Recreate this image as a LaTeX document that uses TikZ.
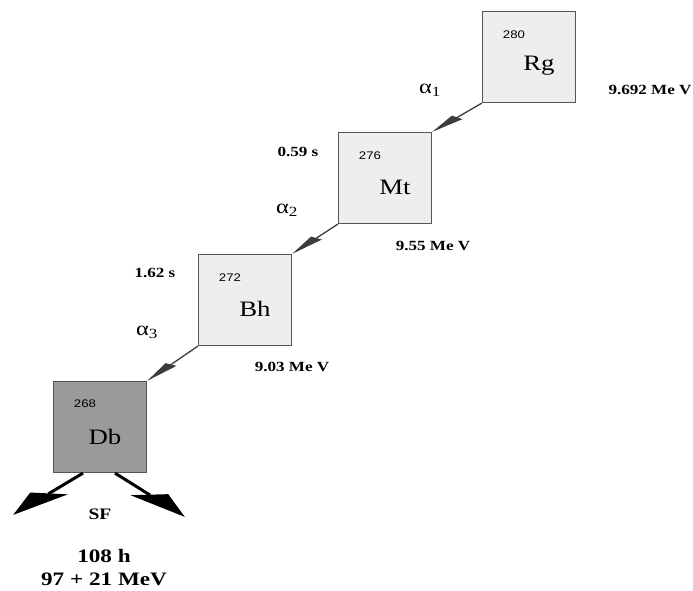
\documentclass[tikz,border=0pt]{standalone}
\usepackage{fontspec}
\setmainfont[FakeStretch=1.22]{Liberation Serif}
\newfontfamily\sansfont[FakeStretch=1.2]{Liberation Sans}
\usetikzlibrary{arrows.meta}
\definecolor{boxgray}{HTML}{EEEEEE}
\definecolor{dbgray}{HTML}{9A9A9A}
\definecolor{edgegray}{HTML}{555555}
\definecolor{arrowgray}{HTML}{3C3C3C}
\tikzstyle{nucleus} = [draw=edgegray, line width=1.2pt, fill=boxgray, minimum width=93pt, minimum height=91pt, inner sep=0pt]
\tikzstyle{daughter} = [nucleus, fill=dbgray]
\tikzstyle{mass} = [font=\sansfont\fontsize{11}{13}\selectfont, inner sep=0pt]
\tikzstyle{symbol} = [font=\fontsize{22}{24}\selectfont, inner sep=0pt]
\tikzstyle{info} = [font=\bfseries\fontsize{14}{16}\selectfont, inner sep=0pt]
\tikzstyle{sflabel} = [font=\bfseries\fontsize{16}{18}\selectfont, inner sep=0pt]
\tikzstyle{decaymode} = [font=\fontsize{20}{22}\selectfont, inner sep=0pt]
\tikzstyle{result} = [font=\bfseries\fontsize{19}{21}\selectfont, inner sep=0pt]
\tikzstyle{alpha decay} = [-{Triangle[length=29pt, width=8pt, slant=-0.9]}, draw=arrowgray, line width=1.3pt]
\tikzstyle{fission} = [line width=3pt]

\begin{document}
\begin{tikzpicture}[x=1pt, y=-1pt]
    \useasboundingbox (0, 0) rectangle (693, 590);

    \foreach \el/\A/\x/\y in {Rg/280/529/57, Mt/276/385/178, Bh/272/245/300} {
        \node (box \el) [nucleus] at (\x, \y) {};
        \node (mass \el) [mass] at (\x-15, \y-22) {\A};
        \node (symbol \el) [symbol] at (\x+10, \y+9) {\el};
    }

    \node (box Db) [daughter] at (100, 427) {};
    \node (mass Db) [mass] at (85, 404) {268};
    \node (symbol Db) [symbol] at (105, 437) {Db};

    \draw [alpha decay] (box Rg.south west) -- (box Mt.north east);
    \draw [alpha decay] (box Mt.south west) -- (box Bh.north east);
    \draw [alpha decay] (box Bh.south west) -- (box Db.north east);

    \node (alpha 1) [decaymode] at (430, 90) {α\textsubscript{1}};
    \node (alpha 2) [decaymode] at (287, 210) {α\textsubscript{2}};
    \node (alpha 3) [decaymode] at (147, 332) {α\textsubscript{3}};

    \node (energy Rg) [info] at (650, 90) {9.692 Me V};
    \node (energy Mt) [info] at (433, 246) {9.55 Me V};
    \node (energy Bh) [info] at (292, 367) {9.03 Me V};
    \node (time Mt) [info] at (298, 152) {0.59 s};
    \node (time Bh) [info] at (155, 273) {1.62 s};

    % spontaneous fission of Db
    \coordinate (fragment 1) at (13, 515);
    \coordinate (fragment 2) at (185, 517);
    \draw [fission, -{Triangle[length=42pt, width=20pt, slant=-1.5]}] ([xshift=-17pt]box Db.south) -- (fragment 1);
    \draw [fission, -{Triangle[length=42pt, width=20pt, slant=1.5]}] ([xshift=15pt]box Db.south) -- (fragment 2);

    \node (sf) [sflabel] at (100, 514) {SF};
    \node (time Db) [result] at (104, 556) {108 h};
    \node (energy Db) [result] at (104, 579) {97 + 21 MeV};
\end{tikzpicture}
\end{document}
